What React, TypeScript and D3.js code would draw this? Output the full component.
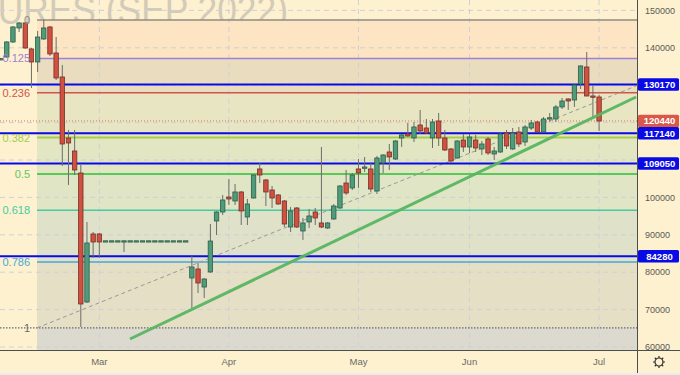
import { useEffect, useRef } from 'react';
import * as d3 from 'd3';

// daily bars, RTS futures Sep 2022 (index = bar number)
const opens = [
  137000, 137550, 141560, 145300, 146640, 139690, 136210, 142360, 145570, 138620,
  132200, 115890, 112410, 106530, 72030, 90220, 90220, 88400, 88400, 88400,
  88400, 88400, 88400, 88400, 88400, 88400, 88400, 88400, 88400, 88400,
  88400, 78450, 80860, 76040, 80060, 93690, 96100, 100110, 99040, 101450,
  94760, 99840, 107600, 104660, 101980, 100650, 99040, 92090, 97170, 91020,
  93430, 96100, 93160, 91820, 94230, 97170, 103850, 102520, 107600, 108000,
  107600, 101710, 109200, 112140, 110270, 115890, 116960, 115890, 119360, 118560,
  115890, 120430, 115890, 112950, 110540, 115350, 113480, 115350, 112950, 115620,
  111610, 112140, 117220, 112950, 117490, 114820, 118560, 120170, 117490, 121240,
  120970, 124180, 126320, 126050, 130330, 134870, 127120, 126850,
];
const highs = [
  137300, 141800, 145800, 146900, 146900, 139950, 144500, 147440, 145840, 142890,
  135410, 118030, 118030, 108670, 93430, 90750, 90500, 88400, 88400, 88400,
  88400, 88400, 88400, 88400, 88400, 88400, 88400, 88400, 88400, 88400,
  88400, 84330, 82460, 78400, 92890, 96300, 100650, 104920, 103590, 101700,
  99580, 106100, 109200, 104900, 103050, 100900, 99300, 97440, 97400, 94500,
  96900, 97170, 113480, 93400, 98240, 103300, 107330, 106530, 110270, 110800,
  109470, 111070, 111500, 114280, 115300, 116960, 119900, 120170, 123370, 120970,
  120970, 122570, 118030, 113200, 115300, 116960, 116960, 116690, 115090, 116150,
  113480, 117220, 118030, 118560, 118830, 119360, 120700, 120430, 121500, 122570,
  124710, 126580, 126500, 130200, 135300, 138880, 130060, 127390,
];
const lows = [
  136700, 137300, 141300, 144230, 139700, 129260, 133540, 142100, 137810, 131400,
  108400, 103320, 105990, 65350, 71800, 83800, 83800, 88400, 88400, 88400,
  85400, 88400, 88400, 88400, 88400, 88400, 88400, 88400, 88400, 88400,
  88400, 70430, 74440, 73100, 79800, 89950, 95300, 97970, 97970, 92620,
  92620, 99700, 103850, 97700, 97170, 97970, 92090, 90750, 91800, 88610,
  91820, 92620, 91800, 91600, 94000, 96900, 100650, 101980, 102520, 106790,
  101450, 100910, 106530, 107330, 110000, 113480, 116200, 114820, 116960, 117000,
  113210, 113750, 112400, 109200, 110300, 112140, 111880, 112140, 111340, 111340,
  110000, 111900, 112950, 112700, 113480, 113750, 118030, 117300, 117300, 120170,
  120170, 123640, 123370, 124180, 128990, 127000, 121500, 117760,
];
const closes = [
  137100, 141560, 145570, 146640, 139950, 136210, 142890, 145300, 138350, 131930,
  114280, 114550, 107330, 71500, 87810, 88080, 88080, 88400, 88400, 88400,
  88400, 88400, 88400, 88400, 88400, 88400, 88400, 88400, 88400, 88400,
  88400, 81390, 77110, 78180, 88340, 96100, 99310, 99580, 101450, 96370,
  98240, 105990, 105990, 101450, 99840, 98240, 92890, 96370, 92090, 93160,
  95030, 94500, 92090, 93160, 97700, 103050, 101180, 105990, 106530, 108130,
  102250, 110540, 111340, 110810, 115090, 116690, 116420, 118830, 117760, 117220,
  120170, 115890, 112680, 109740, 115090, 113480, 116150, 113210, 114280, 111880,
  112410, 116960, 113750, 117220, 114280, 118830, 119900, 117490, 120970, 121300,
  124180, 125780, 125780, 130060, 135140, 127120, 127000, 120430,
];

const monthLabels = ['Mar', 'Apr', 'May', 'Jun', 'Jul'];
const monthBars = [16, 37, 58, 76, 97];

const priceTicks = [150000, 140000, 130000, 120000, 110000, 100000, 90000, 80000, 70000, 60000];

// fibonacci retracement drawn from the high to the low
const fibHigh = 147440;
const fibLow = 65100;
const fibStartBar = 5.9;
const fibRatios = [0, 0.125, 0.236, 0.382, 0.5, 0.618, 0.786, 1];
const fibLabels = ['0', '0.125', '0.236', '0.382', '0.5', '0.618', '0.786', '1'];
const fibColors = ['#8c8b84', '#9c82d6', '#d0554a', '#a5cf48', '#5bc95a', '#46caa0', '#4aa7d8', '#6a6a6a'];
const fibFills = ['#fde4c3', '#eadcbf', '#e8e5c2', '#e2e6c3', '#dfe5c5', '#dfe2c8', '#e5dfc6', '#dcd9cf'];

const keyLevels = [130170, 117140, 109050, 84280];
const lastPrice = 120440;

// drawn lines: [bar, price]
const midLine = [[5.9, 65100], [103, 129800]];
const trendLine = [[20.97, 62140], [103, 126840]];

const FONT = '"Liberation Sans", Arial, sans-serif';

export default function App() {
  const svgRef = useRef<SVGSVGElement>(null);

  useEffect(() => {
    if (!svgRef.current) return;
    const width = 680;
    const height = 375;
    const plotRight = 637;
    const plotBottom = 350;

    const svg = d3.select(svgRef.current);
    svg.selectAll('*').remove();

    const x = d3.scaleLinear().domain([0, 103]).range([0.6, 636.1]);
    const y = d3.scaleLinear().domain([60000, 150000]).range([347, 10.4]);

    const defs = svg.append('defs');
    defs.append('clipPath').attr('id', 'plot').append('rect')
      .attr('x', 0).attr('y', 0).attr('width', plotRight).attr('height', plotBottom);

    svg.append('rect').attr('width', width).attr('height', height).attr('fill', '#fdf1cf');

    const plot = svg.append('g').attr('clip-path', 'url(#plot)');

    // watermark (mostly off the top-left edge)
    plot.append('text')
      .attr('x', -151).attr('y', 24)
      .attr('textLength', 439)
      .attr('lengthAdjust', 'spacingAndGlyphs')
      .attr('font-family', FONT)
      .attr('font-size', 40)
      .attr('fill', '#d3cab8')
      .text('RTS FUTURES (SEP 2022)');

    // fib zones
    const fibPrice = (r: number) => fibHigh - r * (fibHigh - fibLow);
    const zoneEdges = fibRatios.map(fibPrice).concat([y.invert(plotBottom)]);
    plot.selectAll('.zone')
      .data(fibFills)
      .enter()
      .append('rect')
      .attr('x', x(fibStartBar))
      .attr('width', plotRight - x(fibStartBar))
      .attr('y', (_, i) => y(zoneEdges[i]))
      .attr('height', (_, i) => y(zoneEdges[i + 1]) - y(zoneEdges[i]))
      .attr('fill', (d) => d);

    // grid
    plot.selectAll('.hgrid')
      .data(priceTicks)
      .enter()
      .append('line')
      .attr('x1', 0).attr('x2', plotRight)
      .attr('y1', (d) => y(d)).attr('y2', (d) => y(d))
      .attr('stroke', '#cdd1d6').attr('stroke-dasharray', '5,4');
    plot.selectAll('.vgrid')
      .data(monthBars)
      .enter()
      .append('line')
      .attr('x1', (d) => x(d)).attr('x2', (d) => x(d))
      .attr('y1', 0).attr('y2', plotBottom)
      .attr('stroke', '#cdd1d6').attr('stroke-dasharray', '5,4');

    // fib lines
    plot.selectAll('.fib')
      .data(fibRatios)
      .enter()
      .append('line')
      .attr('x1', (d) => (d === 1 ? 0 : x(fibStartBar)))
      .attr('x2', plotRight)
      .attr('y1', (d) => y(fibPrice(d)))
      .attr('y2', (d) => y(fibPrice(d)))
      .attr('stroke', (_, i) => fibColors[i])
      .attr('stroke-width', (d) => (d === 0.382 || d === 0.5 ? 2 : d === 1 ? 1.2 : 1.5))
      .attr('stroke-dasharray', (d) => (d === 1 ? '1.5,1.5' : null));

    svg.selectAll('.fibLabel')
      .data(fibRatios)
      .enter()
      .append('text')
      .attr('x', 30)
      .attr('y', (d) => y(fibPrice(d)))
      .attr('dy', '0.36em')
      .attr('text-anchor', 'end')
      .attr('font-family', FONT)
      .attr('font-size', 11)
      .attr('fill', (_, i) => fibColors[i])
      .text((_, i) => fibLabels[i]);

    const line = d3.line<number[]>().x((d) => x(d[0])).y((d) => y(d[1]));

    plot.append('path')
      .attr('d', line(midLine))
      .attr('fill', 'none')
      .attr('stroke', '#9a9a96')
      .attr('stroke-width', 1)
      .attr('stroke-dasharray', '4,3');

    // key levels
    plot.selectAll('.level')
      .data(keyLevels)
      .enter()
      .append('line')
      .attr('x1', 0).attr('x2', plotRight)
      .attr('y1', (d) => y(d)).attr('y2', (d) => y(d))
      .attr('stroke', '#0a0ae6').attr('stroke-width', 2);

    plot.append('line')
      .attr('x1', 0).attr('x2', plotRight)
      .attr('y1', y(lastPrice)).attr('y2', y(lastPrice))
      .attr('stroke', '#e0705e').attr('stroke-dasharray', '1,2');

    // candles
    const bars = d3.range(opens.length);
    const candle = plot.selectAll('.candle')
      .data(bars)
      .enter()
      .append('g')
      .attr('transform', (i) => `translate(${x(i)},0)`);

    candle.append('line')
      .attr('y1', (i) => y(highs[i]))
      .attr('y2', (i) => y(lows[i]))
      .attr('stroke', '#6c6c6c')
      .attr('stroke-width', 1);

    candle.append('rect')
      .attr('x', -2.2)
      .attr('width', 4.4)
      .attr('y', (i) => y(Math.max(opens[i], closes[i])))
      .attr('height', (i) => Math.max(1.3, Math.abs(y(opens[i]) - y(closes[i]))))
      .attr('fill', (i) => (closes[i] >= opens[i] ? '#4f9c7b' : '#d2503f'))
      .attr('stroke', (i) => (closes[i] >= opens[i] ? '#2f5c4a' : '#74302a'))
      .attr('stroke-width', 0.8);

    plot.append('path')
      .attr('d', line(trendLine))
      .attr('fill', 'none')
      .attr('stroke', '#57b561')
      .attr('stroke-width', 3)
      .attr('stroke-opacity', 0.95);

    // axes frame
    svg.append('line')
      .attr('x1', plotRight + 0.5).attr('x2', plotRight + 0.5)
      .attr('y1', 0).attr('y2', 373)
      .attr('stroke', '#4d4d4d');
    svg.append('line')
      .attr('x1', 0).attr('x2', width)
      .attr('y1', plotBottom + 0.5).attr('y2', plotBottom + 0.5)
      .attr('stroke', '#4d4d4d');
    svg.append('rect').attr('x', 0).attr('y', 373).attr('width', width).attr('height', 2).attr('fill', '#ececec');

    // price labels on the axis (tick labels hidden under a tag are skipped)
    const tags = [{ v: lastPrice, c: '#d9584a' }].concat(keyLevels.map((v) => ({ v, c: '#0a0ae6' })));
    const visibleTicks = priceTicks.filter((t) => tags.every((g) => Math.abs(y(t) - y(g.v)) > 9));

    svg.selectAll('.ytick')
      .data(visibleTicks)
      .enter()
      .append('text')
      .attr('x', 645)
      .attr('y', (d) => y(d))
      .attr('dy', '0.36em')
      .attr('font-family', FONT)
      .attr('font-size', 9)
      .attr('fill', '#5a5a5a')
      .text((d) => d);

    svg.selectAll('.xtick')
      .data(monthBars)
      .enter()
      .append('text')
      .attr('x', (d) => x(d))
      .attr('y', 362)
      .attr('dy', '0.36em')
      .attr('text-anchor', 'middle')
      .attr('font-family', FONT)
      .attr('font-size', 9.5)
      .attr('fill', '#6a6a6a')
      .text((_, i) => monthLabels[i]);

    const tag = svg.selectAll('.tag')
      .data(tags)
      .enter()
      .append('g')
      .attr('transform', (d) => `translate(${plotRight + 1},${y(d.v)})`);
    tag.append('rect')
      .attr('x', 0).attr('y', -6.2)
      .attr('width', 41).attr('height', 12.4)
      .attr('rx', 1.5)
      .attr('fill', (d) => d.c);
    tag.append('text')
      .attr('x', 21.5)
      .attr('dy', '0.36em')
      .attr('text-anchor', 'middle')
      .attr('font-family', FONT)
      .attr('font-size', 9.5)
      .attr('font-weight', 'bold')
      .attr('fill', '#fff')
      .text((d) => d.v);

    // settings gear
    const gear = svg.append('g').attr('transform', 'translate(659,362)');
    gear.append('circle').attr('r', 4).attr('fill', 'none').attr('stroke', '#333').attr('stroke-width', 1.2);
    gear.selectAll('.tooth')
      .data(d3.range(8))
      .enter()
      .append('line')
      .attr('x1', (d) => 4 * Math.cos((d * Math.PI) / 4))
      .attr('y1', (d) => 4 * Math.sin((d * Math.PI) / 4))
      .attr('x2', (d) => 6 * Math.cos((d * Math.PI) / 4))
      .attr('y2', (d) => 6 * Math.sin((d * Math.PI) / 4))
      .attr('stroke', '#333')
      .attr('stroke-width', 1.2);
  }, []);

  return (
    <svg
      ref={svgRef}
      width={680}
      height={375}
      style={{ position: 'absolute', left: 0, top: 0, display: 'block' }}
    />
  );
}
